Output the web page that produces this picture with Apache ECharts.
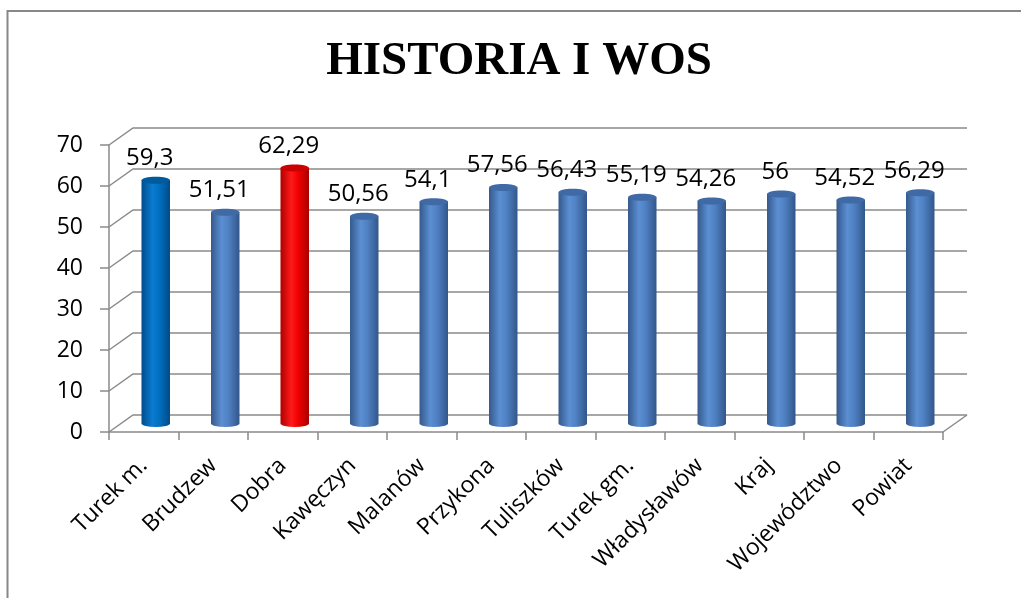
<!DOCTYPE html>
<html>
<head>
<meta charset="utf-8">
<script src="https://cdn.jsdelivr.net/npm/echarts@6/dist/echarts.min.js"></script>
<style>
html,body{margin:0;padding:0;background:#fff;}
#chart{width:1021px;height:598px;}
</style>
</head>
<body>
<div id="chart"></div>
<script>
// ---- data ----
const titleText = 'HISTORIA I WOS';
const categories = ['Turek m.', 'Brudzew', 'Dobra', 'Kawęczyn', 'Malanów', 'Przykona', 'Tuliszków', 'Turek gm.', 'Władysławów', 'Kraj', 'Województwo', 'Powiat'];
const values = [59.3, 51.51, 62.29, 50.56, 54.1, 57.56, 56.43, 55.19, 54.26, 56, 54.52, 56.29];
const yTicks = [0, 10, 20, 30, 40, 50, 60, 70];

// ---- styles ----
const DX = 24, DY = -17;          // 3D depth offset (back wall)
const GRID_COLOR = '#8a8a8a';
const palettes = {
  normal: { edgeL: '#35598c', mid: '#5b8fd3', mid2: '#4f80c2', edgeR: '#32578a', top: '#3f6aa6' },
  'Turek m.': { edgeL: '#004d8c', mid: '#0a7bd0', mid2: '#0070c0', edgeR: '#004a88', top: '#005a9e' },
  'Dobra': { edgeL: '#b00000', mid: '#ff1a1a', mid2: '#f00000', edgeR: '#a80000', top: '#cc0000' }
};
function fmt(v) { return String(v).replace('.', ','); }

const chart = echarts.init(document.getElementById('chart'));

const option = {
  animation: false,
  backgroundColor: '#fff',
  title: {
    text: titleText,
    left: 514,
    top: 33,
    textAlign: 'center',
    textStyle: { fontFamily: 'Liberation Serif', fontWeight: 'bold', fontSize: 47, color: '#000' }
  },
  graphic: [{
    type: 'rect',
    shape: { x: 7.5, y: 11, width: 1100, height: 700 },
    style: { fill: 'none', stroke: '#888', lineWidth: 2 },
    silent: true
  }],
  grid: { left: 109, right: 78, top: 145, bottom: 166, containLabel: false },
  xAxis: {
    type: 'category',
    data: categories,
    boundaryGap: true,
    axisLine: { show: true, lineStyle: { color: GRID_COLOR, width: 1.5 } },
    axisTick: { show: true, length: 8, interval: 0, alignWithLabel: false, lineStyle: { color: GRID_COLOR, width: 1.5 } },
    axisLabel: {
      interval: 0, rotate: 45, margin: 30,
      fontFamily: 'Open Sans', fontSize: 23, color: '#000'
    },
    splitLine: { show: false }
  },
  yAxis: {
    type: 'value',
    min: yTicks[0], max: yTicks[yTicks.length - 1], interval: yTicks[1] - yTicks[0],
    axisLine: { show: true, lineStyle: { color: GRID_COLOR, width: 1.5 } },
    axisTick: { show: true, length: 9, lineStyle: { color: GRID_COLOR, width: 1.5 } },
    axisLabel: { margin: 26, fontFamily: 'Open Sans', fontSize: 23, color: '#000' },
    splitLine: { show: false }
  },
  series: [
    {
      type: 'custom',
      name: 'walls',
      silent: true,
      clip: false,
      z: 1,
      data: yTicks.map(v => [0, v]),
      renderItem: function (params, api) {
        const cs = params.coordSys;
        const x0 = cs.x, w = cs.width;
        const v = api.value(1);
        const y = api.coord([0, v])[1];
        const children = [{
          type: 'polyline',
          shape: { points: [[x0, y], [x0 + DX, y + DY], [x0 + w + DX, y + DY]] },
          style: { stroke: GRID_COLOR, lineWidth: 1.5, fill: null }
        }];
        if (v === 0) {
          children.push({
            type: 'line',
            shape: { x1: x0 + w, y1: y, x2: x0 + w + DX, y2: y + DY },
            style: { stroke: GRID_COLOR, lineWidth: 1.5 }
          });
        }
        return { type: 'group', children: children };
      }
    },
    {
      type: 'custom',
      name: 'bars',
      clip: false,
      z: 3,
      data: categories.map((c, i) => [i, values[i]]),
      renderItem: function (params, api) {
        const i = api.value(0), v = api.value(1);
        const base = api.coord([i, 0]);
        const top = api.coord([i, v]);
        const bw = api.size([1, 0])[0] * 0.41;
        const rx = bw / 2, ry = 3.5;
        const cx = base[0] + DX / 2;
        const yb = base[1] + DY / 2;
        const yt = top[1] + DY / 2;
        const p = palettes[categories[i]] || palettes.normal;
        const grad = new echarts.graphic.LinearGradient(0, 0, 1, 0, [
          { offset: 0, color: p.edgeL },
          { offset: 0.38, color: p.mid },
          { offset: 0.62, color: p.mid2 },
          { offset: 1, color: p.edgeR }
        ]);
        const bodyPath = 'M' + (cx - rx) + ',' + yt + ' L' + (cx - rx) + ',' + yb +
          ' A' + rx + ',' + ry + ' 0 0 0 ' + (cx + rx) + ',' + yb +
          ' L' + (cx + rx) + ',' + yt + ' Z';
        return {
          type: 'group',
          children: [
            { type: 'path', shape: { pathData: bodyPath }, style: { fill: grad } },
            { type: 'ellipse', shape: { cx: cx, cy: yt, rx: rx, ry: ry }, style: { fill: p.top } },
            {
              type: 'text',
              style: {
                text: fmt(v), x: cx - 6, y: yt - 10,
                align: 'center', verticalAlign: 'bottom',
                font: '24px "Open Sans"', fill: '#000'
              }
            }
          ]
        };
      }
    }
  ]
};
chart.setOption(option);
</script>
</body>
</html>
